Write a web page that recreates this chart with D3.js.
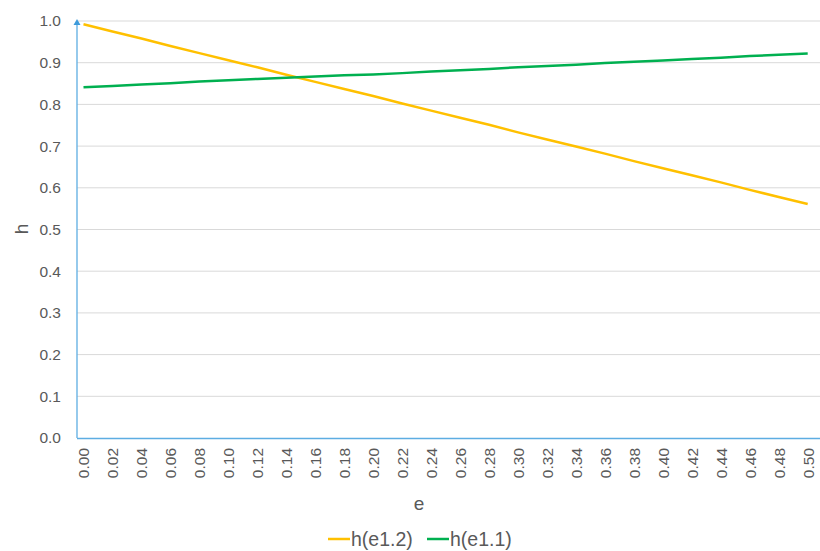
<!DOCTYPE html>
<html><head><meta charset="utf-8">
<script src="https://cdn.jsdelivr.net/npm/d3@7"></script>
<style>
body{margin:0;background:#fff;}
text{font-family:"Liberation Sans",Arial,sans-serif;fill:#595959;}
</style></head>
<body><svg id="c" width="820" height="551"></svg>
<script>
const categories = ["0.00","0.02","0.04","0.06","0.08","0.10","0.12","0.14","0.16","0.18","0.20","0.22","0.24","0.26","0.28","0.30","0.32","0.34","0.36","0.38","0.40","0.42","0.44","0.46","0.48","0.50"];
const h12 = [0.992,0.975,0.958,0.940,0.923,0.906,0.889,0.871,0.854,0.837,0.820,0.802,0.785,0.768,0.751,0.733,0.716,0.699,0.682,0.664,0.647,0.630,0.613,0.595,0.578,0.561];
const h11 = [0.841,0.844,0.848,0.851,0.855,0.858,0.861,0.864,0.867,0.870,0.872,0.875,0.879,0.882,0.885,0.889,0.892,0.895,0.899,0.902,0.905,0.909,0.912,0.916,0.919,0.922];
const yTicks = [0,0.1,0.2,0.3,0.4,0.5,0.6,0.7,0.8,0.9,1.0];
const seriesNames = ["h(e1.2)","h(e1.1)"];
const colors = ["#FFC000","#00B050"];

const svg = d3.select("#c");
const mLeft = 77, mRight = 820, mTop = 21, mBottom = 438;
const x = d3.scalePoint().domain(categories).range([83.5, 807.7]);
const y = d3.scaleLinear().domain([0,1]).range([mBottom, mTop]);

// gridlines
svg.append("g").selectAll("line").data(yTicks.filter(d=>d>0)).join("line")
  .attr("x1", mLeft).attr("x2", mRight).attr("y1", d=>y(d)).attr("y2", d=>y(d))
  .attr("stroke","#D9D9D9").attr("stroke-width",1);

// y axis labels
const ya = svg.append("g").attr("transform",`translate(${mLeft},0)`)
  .call(d3.axisLeft(y).tickValues(yTicks).tickFormat(d3.format(".1f")).tickSize(0).tickPadding(16));
ya.select(".domain").remove();
ya.selectAll("text").attr("font-size",15.5).style("font-family","Liberation Sans, Arial, sans-serif").attr("fill","#595959");

// x axis
const xa = svg.append("g").attr("transform",`translate(0,${mBottom})`)
  .call(d3.axisBottom(x).tickSize(0).tickPadding(0));
xa.select(".domain").remove();
xa.selectAll("text").attr("font-size",15.5).style("font-family","Liberation Sans, Arial, sans-serif").attr("fill","#595959")
  .attr("transform","rotate(-90)").attr("text-anchor","end").attr("dy","0.35em").attr("x",-10).attr("y",0);

// axis lines
svg.append("line").attr("x1",mLeft).attr("x2",mRight).attr("y1",mBottom+0.5).attr("y2",mBottom+0.5)
  .attr("stroke","#5DADE2").attr("stroke-width",1.3);
svg.append("line").attr("x1",mLeft).attr("x2",mLeft).attr("y1",mBottom).attr("y2",mTop+3)
  .attr("stroke","#5DADE2").attr("stroke-width",1.3);
svg.append("path").attr("d",`M${mLeft-3.5},${mTop+4}L${mLeft},${mTop-2}L${mLeft+3.5},${mTop+4}Z`).attr("fill","#3E9BDB");

// lines
const line = d3.line().x((d,i)=>x(categories[i])).y(d=>y(d));
[h12,h11].forEach((s,k)=>{
  svg.append("path").datum(s).attr("d",line).attr("fill","none")
    .attr("stroke",colors[k]).attr("stroke-width",2.5).attr("stroke-linejoin","round");
});

// axis titles
svg.append("text").attr("transform","translate(28,229) rotate(-90)").attr("text-anchor","middle")
  .attr("font-size",19).text("h");
svg.append("text").attr("x",419).attr("y",510).attr("text-anchor","middle").attr("font-size",19).text("e");

// legend
const lg = [{x:328},{x:427}];
seriesNames.forEach((n,k)=>{
  svg.append("line").attr("x1",lg[k].x).attr("x2",lg[k].x+22).attr("y1",539).attr("y2",539)
    .attr("stroke",colors[k]).attr("stroke-width",2.5);
  svg.append("text").attr("x",lg[k].x+23).attr("y",546).attr("font-size",19.5).text(n);
});
</script></body></html>
